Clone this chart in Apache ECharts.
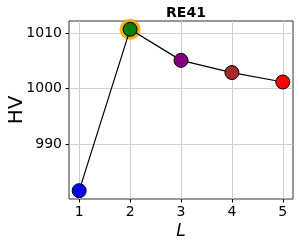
<!DOCTYPE html>
<html>
<head>
<meta charset="utf-8">
<script src="https://cdn.jsdelivr.net/npm/echarts@6/dist/echarts.min.js"></script>
<style>html,body{margin:0;padding:0;background:#fff}#c{width:299px;height:245px}</style>
</head>
<body>
<div id="c"></div>
<script>
const xValues = [1, 2, 3, 4, 5];
const hvValues = [981.6, 1010.7, 1005.1, 1002.9, 1001.2];
const pointColors = ['#0000ff', '#008000', '#800080', '#a52a2a', '#ff0000'];
const xTicks = [1, 2, 3, 4, 5];
const yTicks = [990, 1000, 1010];
const bestIndex = 1;
const titleText = 'RE41';

const chart = echarts.init(document.getElementById('c'), null, {renderer: 'canvas'});
const font = 'DejaVu Sans';
chart.setOption({
  animation: false,
  backgroundColor: '#fff',
  title: {
    text: titleText, left: 181, top: 1, textAlign: 'center',
    textStyle: {fontFamily: font, fontWeight: 'bold', fontSize: 14, color: '#000'}
  },
  grid: {left: 69, right: 6, top: 21, bottom: 46, containLabel: false, outerBoundsMode: 'none', show: true, borderColor: '#333', borderWidth: 1, backgroundColor: 'transparent'},
  xAxis: {
    type: 'value', min: 0.8, max: 5.2,
    name: 'L', nameLocation: 'middle', nameGap: 24, nameMoveOverlap: false,
    nameTextStyle: {fontFamily: font, fontStyle: 'italic', fontSize: 17, color: '#000'},
    axisLine: {show: false},
    axisTick: {show: true, length: 3.5, customValues: xTicks, lineStyle: {color: '#000'}},
    axisLabel: {customValues: xTicks, fontFamily: font, fontSize: 14, color: '#000', margin: 6, formatter: v => String(v)},
    splitLine: {show: true, lineStyle: {color: '#cfcfcf', width: 1}}
  },
  yAxis: {
    type: 'value', min: 980.1, max: 1012.2,
    name: 'HV', nameLocation: 'middle', nameGap: 42, nameMoveOverlap: false,
    nameTextStyle: {fontFamily: font, fontSize: 20, color: '#000'},
    axisLine: {show: false},
    axisTick: {show: true, length: 3.5, customValues: yTicks, lineStyle: {color: '#000'}},
    axisLabel: {customValues: yTicks, fontFamily: font, fontSize: 14, color: '#000', margin: 7, formatter: v => String(v)},
    splitLine: {show: true, lineStyle: {color: '#cfcfcf', width: 1}}
  },
  series: [
    {
      type: 'scatter', symbolSize: 21, z: 1,
      itemStyle: {color: '#ffa500', opacity: 0.9},
      data: [[xValues[bestIndex], hvValues[bestIndex]]]
    },
    {
      type: 'line', z: 2,
      lineStyle: {color: '#000', width: 1.2},
      symbol: 'circle', symbolSize: 14,
      data: xValues.map((x, i) => ({
        value: [x, hvValues[i]],
        itemStyle: {color: pointColors[i], borderColor: '#000', borderWidth: 1}
      }))
    }
  ]
});
</script>
</body>
</html>
